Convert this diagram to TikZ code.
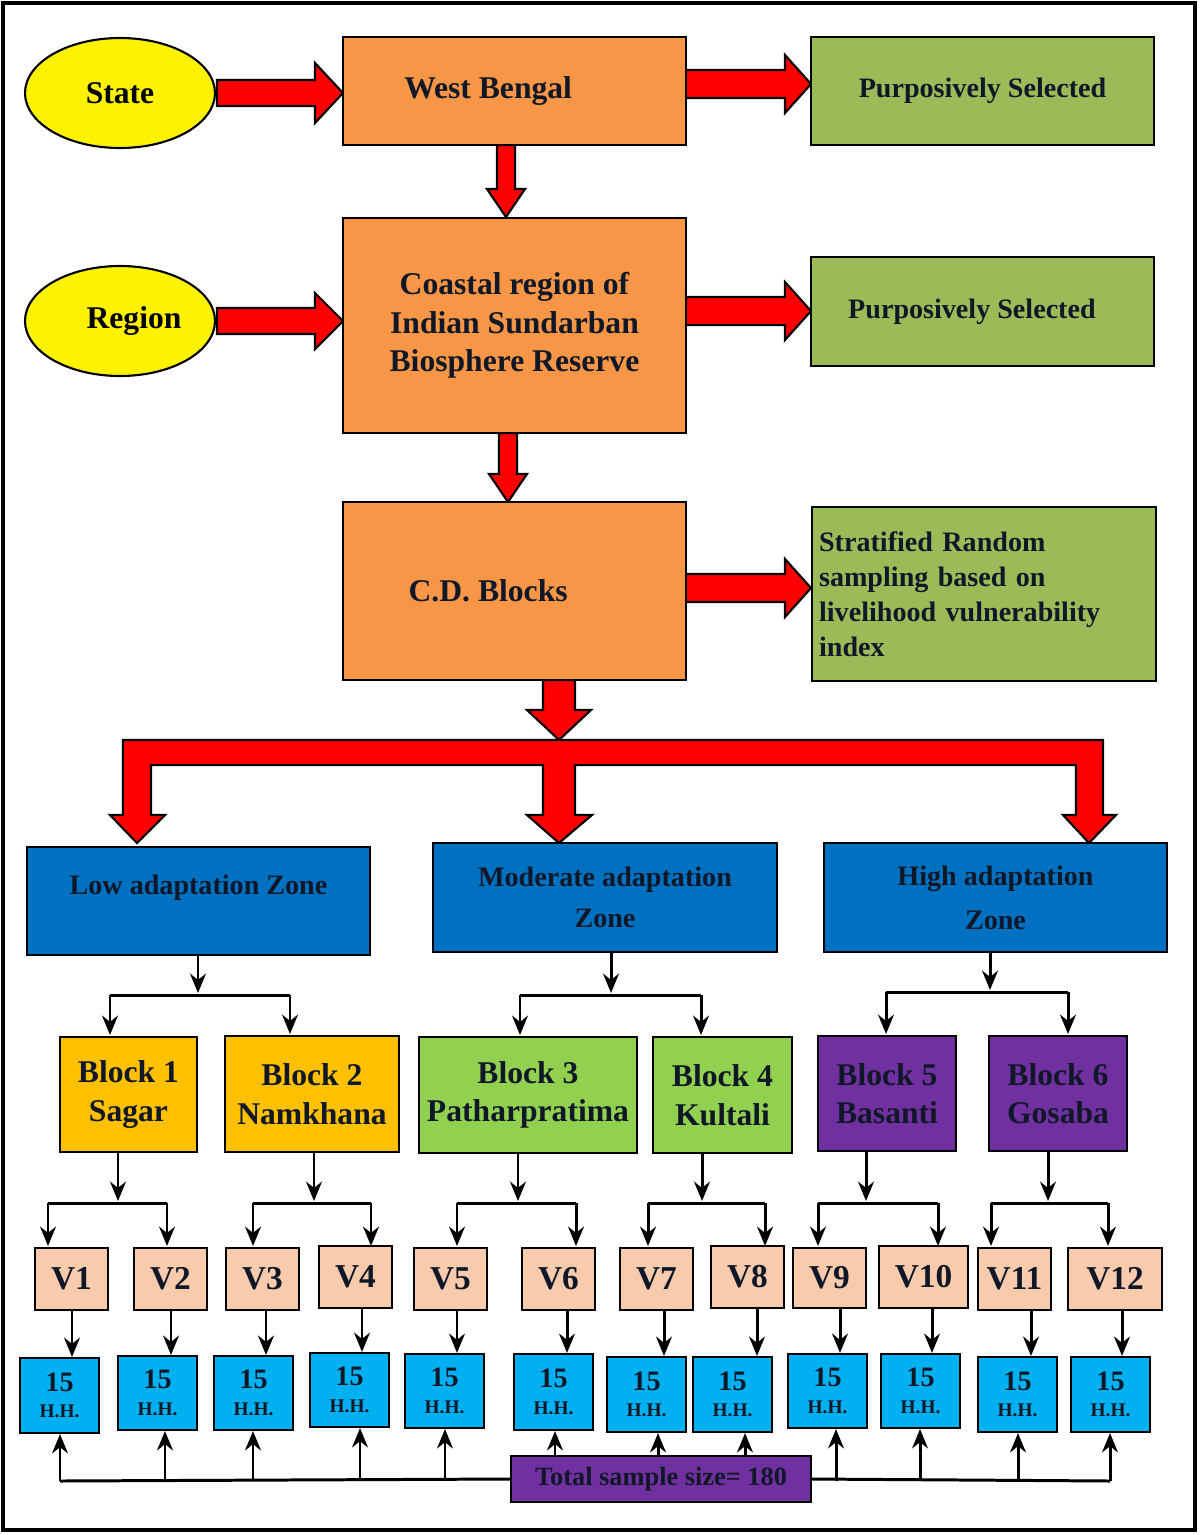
\documentclass[tikz,border=0pt]{standalone}
\usepackage{fontspec}
\setmainfont{Liberation Serif}
\usetikzlibrary{arrows.meta}
\definecolor{cOr}{HTML}{F79646}
\definecolor{cGr}{HTML}{9BBB59}
\definecolor{cBl}{HTML}{0070C0}
\definecolor{cB1}{HTML}{FFC000}
\definecolor{cB3}{HTML}{92D050}
\definecolor{cPu}{HTML}{7030A0}
\definecolor{cV}{HTML}{F8CBAD}
\definecolor{cHH}{HTML}{00B0F0}
\definecolor{cTx}{HTML}{101828}
\newcommand\bx[7]{\node[#6, minimum width={(#4-#2)*0.02cm}, minimum height={(#5-#3)*0.02cm}] (#1) at ({(#2+#4)/2},{(#3+#5)/2}) {#7};}
\newcommand\rarR[6]{\filldraw[redarr] (#1,#3-#4) -- (#2-#6,#3-#4) -- (#2-#6,#3-#5) -- (#2,#3) -- (#2-#6,#3+#5) -- (#2-#6,#3+#4) -- (#1,#3+#4) -- cycle;}
\newcommand\rarD[6]{\filldraw[redarr] (#1-#4,#2) -- (#1-#4,#3-#6) -- (#1-#5,#3-#6) -- (#1,#3) -- (#1+#5,#3-#6) -- (#1+#4,#3-#6) -- (#1+#4,#2) -- cycle;}
\newcommand\hh{{\fontsize{16}{17}\selectfont 15}\\[3pt]{\fontsize{11}{13}\selectfont H.H.}}
\tikzset{
 bxs/.style={draw=black, line width=1.2pt, inner sep=2pt, font=\bfseries, text=cTx, align=center},
 ora/.style={bxs, fill=cOr, font=\bfseries\fontsize{18}{22}\selectfont},
 grn/.style={bxs, fill=cGr, font=\bfseries\fontsize{16}{20}\selectfont},
 zone/.style={bxs, fill=cBl, font=\bfseries\fontsize{16}{21}\selectfont},
 blk/.style={bxs, font=\bfseries\fontsize{18}{22}\selectfont},
 vb/.style={bxs, fill=cV, font=\bfseries\fontsize{19}{22}\selectfont},
 hb/.style={bxs, fill=cHH, inner sep=0pt},
 redarr/.style={fill=red, draw=black, line width=1.2pt, line join=miter},
 arr/.style={-{Stealth[length=11pt,width=9pt]}, line width=1.7pt},
 ln/.style={line width=1.7pt}
}
\begin{document}
\begin{tikzpicture}[x=0.02cm,y=-0.02cm]
\useasboundingbox (0,0) rectangle (1200,1535);
\draw[line width=2.2pt] (3,3) rectangle (1195,1530);
% ellipses
\draw[line width=1.2pt, fill=yellow] (120,93) ellipse (95 and 55);
\node[font=\bfseries\fontsize{18}{22}\selectfont] (state) at (120,93) {State};
\draw[line width=1.2pt, fill=yellow] (120,321) ellipse (95 and 55);
\node[font=\bfseries\fontsize{18}{22}\selectfont] (region) at (134,321) {Region};
% red arrows
\rarR{217}{343}{93}{13}{30}{28}
\rarR{686}{811}{84}{14}{29}{26}
\rarR{217}{343}{321}{13}{28}{28}
\rarR{686}{811}{311}{14}{29}{26}
\rarR{686}{811}{588}{14}{29}{26}
\rarD{506}{145}{217}{9}{19}{28}
\rarD{508}{433}{502}{9}{19}{28}
\rarD{559}{680}{740}{16}{32}{30}
\filldraw[redarr] (123,740) -- (1103,740) -- (1103,815) -- (1116,815) -- (1089,843) -- (1063,815) -- (1076,815) -- (1076,765) -- (575,765) -- (575,815) -- (592,815) -- (559,843) -- (527,815) -- (543,815) -- (543,765) -- (151,765) -- (151,815) -- (165,815) -- (137,843) -- (110,815) -- (123,815) -- cycle;
% top boxes
\bx{wb}{343}{37}{686}{145}{ora}{\hspace*{-30pt}West Bengal}
\bx{ps1}{811}{37}{1154}{145}{grn}{Purposively Selected}
\bx{cr}{343}{218}{686}{433}{ora}{Coastal region of\\Indian Sundarban\\Biosphere Reserve}
\bx{ps2}{811}{257}{1154}{366}{grn}{\hspace*{-12pt}Purposively Selected}
\bx{cd}{343}{502}{686}{680}{ora}{\hspace*{-30pt}C.D. Blocks}
\node[grn, align=left, anchor=north west, minimum width={343*0.02cm}, minimum height={174*0.02cm}, text width={330*0.02cm}, inner sep=4pt] (st) at (811,506) {Stratified Random\\sampling based on\\livelihood vulnerability\\index};
% zones
\bx{low}{27}{847}{370}{955}{zone}{\raisebox{18pt}{Low adaptation Zone}}
\bx{mod}{433}{843}{777}{952}{zone}{Moderate adaptation\\[2pt]Zone}
\bx{high}{824}{843}{1167}{952}{zone}{\raisebox{-10pt}{\shortstack{High adaptation\\[8pt]Zone}}}
% blocks
\bx{b1}{60}{1037}{197}{1152}{blk,fill=cB1}{Block 1\\Sagar}
\bx{b2}{225}{1036}{399}{1152}{blk,fill=cB1}{Block 2\\Namkhana}
\bx{b3}{419}{1037}{637}{1153}{blk,fill=cB3}{Block 3\\Patharpratima}
\bx{b4}{653}{1037}{792}{1153}{blk,fill=cB3}{Block 4\\Kultali}
\bx{b5}{818}{1036}{956}{1151}{blk,fill=cPu}{Block 5\\Basanti}
\bx{b6}{989}{1036}{1127}{1151}{blk,fill=cPu}{Block 6\\Gosaba}
% V boxes
\bx{v1}{35}{1248}{108}{1310}{vb}{V1}
\bx{v2}{134}{1248}{207}{1310}{vb}{V2}
\bx{v3}{226}{1248}{299}{1310}{vb}{V3}
\bx{v4}{319}{1246}{392}{1308}{vb}{V4}
\bx{v5}{414}{1248}{487}{1310}{vb}{V5}
\bx{v6}{522}{1248}{595}{1310}{vb}{V6}
\bx{v7}{620}{1248}{693}{1310}{vb}{V7}
\bx{v8}{711}{1246}{784}{1308}{vb}{V8}
\bx{v9}{793}{1248}{866}{1308}{vb}{V9}
\bx{v10}{879}{1246}{968}{1308}{vb}{V10}
\bx{v11}{978}{1248}{1051}{1310}{vb}{V11}
\bx{v12}{1068}{1248}{1162}{1310}{vb}{V12}
% HH boxes
\bx{h1}{20}{1358}{99}{1433}{hb}{\hh}
\bx{h2}{118}{1356}{197}{1430}{hb}{\hh}
\bx{h3}{214}{1356}{293}{1430}{hb}{\hh}
\bx{h4}{310}{1353}{389}{1427}{hb}{\hh}
\bx{h5}{405}{1354}{484}{1428}{hb}{\hh}
\bx{h6}{514}{1354}{593}{1430}{hb}{\hh}
\bx{h7}{607}{1357}{686}{1432}{hb}{\hh}
\bx{h8}{693}{1357}{772}{1432}{hb}{\hh}
\bx{h9}{788}{1354}{867}{1428}{hb}{\hh}
\bx{h10}{881}{1354}{960}{1428}{hb}{\hh}
\bx{h11}{978}{1357}{1057}{1432}{hb}{\hh}
\bx{h12}{1071}{1357}{1150}{1432}{hb}{\hh}
\bx{tot}{511}{1456}{811}{1502}{bxs,fill=cPu,font=\bfseries\fontsize{15}{18}\selectfont}{Total sample size= 180}
% zone -> blocks
\draw[arr] (low.south -| 198,0) -- (198,993);
\draw[ln] (110,995) -- (290,995);
\draw[arr] (110,995) -- (110,1035);
\draw[arr] (290,995) -- (290,1034);
\draw[arr] (mod.south -| 611,0) -- (611,993);
\draw[ln] (520,995) -- (701,995);
\draw[arr] (520,995) -- (520,1035);
\draw[arr] (701,995) -- (701,1035);
\draw[arr] (high.south -| 990,0) -- (990,990);
\draw[ln] (886,992) -- (1068,992);
\draw[arr] (886,992) -- (886,1034);
\draw[arr] (1068,992) -- (1068,1034);
% blocks -> V
\foreach \b/\x/\l/\r in {b1/118/48/167, b2/314/253/371, b3/518/457/576, b4/702/648/765, b5/866/818/938, b6/1048/991/1108}{
  \draw[arr] (\b.south -| \x,0) -- (\x,1201);
  \draw[ln] (\l,1203) -- (\r,1203);
  \draw[arr] (\l,1203) -- (\l,1246);
  \draw[arr] (\r,1203) -- (\r,1246);
}
% V -> HH
\foreach \v/\h/\x in {v1/h1/72, v2/h2/171, v3/h3/266, v4/h4/362, v5/h5/457, v6/h6/567, v7/h7/664, v8/h8/757, v9/h9/840, v10/h10/932, v11/h11/1031, v12/h12/1122}{
  \draw[arr] (\v.south -| \x,0) -- (\h.north -| \x,0);
}
% total -> HH
\draw[ln] (60,1481) -- (tot.west);
\draw[ln] (tot.east) -- (1110,1481);
\foreach \h/\x in {h1/60, h2/165, h3/253, h4/360, h5/445}{
  \draw[arr] (\x,1481) -- (\h.south -| \x,0);
}
\foreach \h/\x in {h9/836, h10/920, h11/1018, h12/1110}{
  \draw[arr] (\x,1481) -- (\h.south -| \x,0);
}
\foreach \h/\x in {h6/555, h7/658, h8/745}{
  \draw[arr] (tot.north -| \x,0) -- (\h.south -| \x,0);
}
\end{tikzpicture}
\end{document}
